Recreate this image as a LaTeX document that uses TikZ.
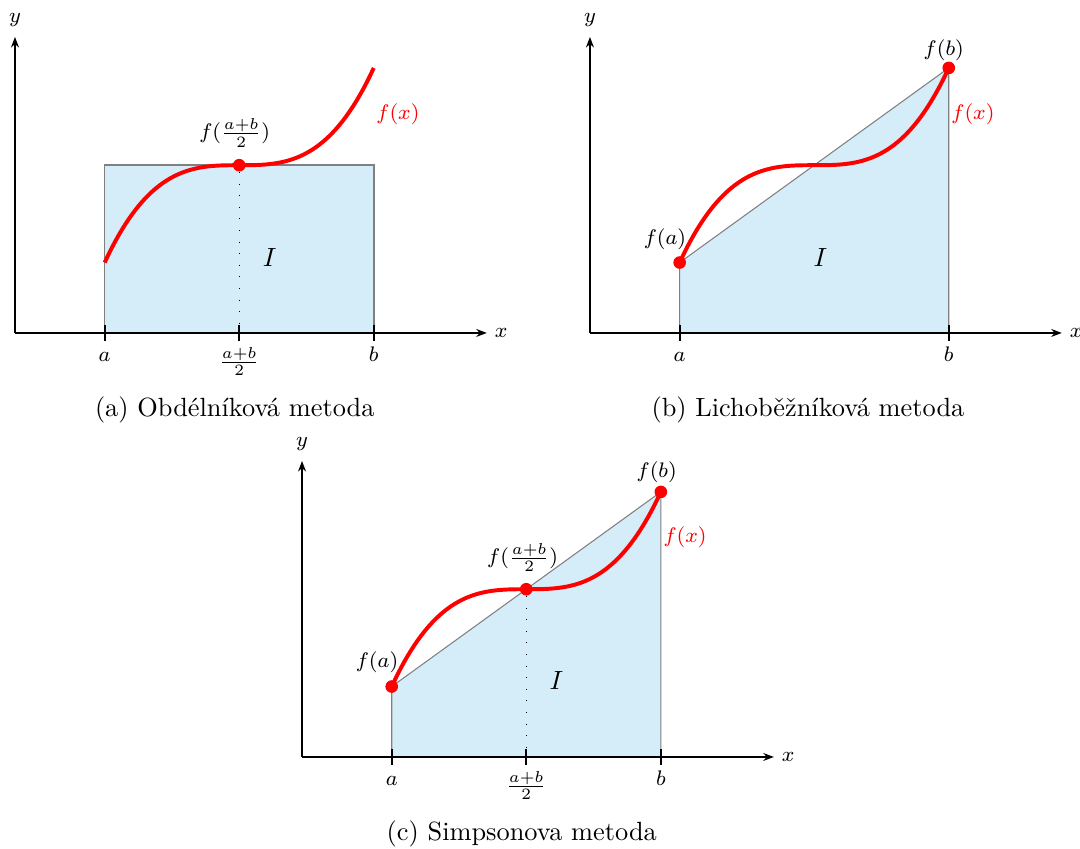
\documentclass[tikz,border=0pt]{standalone}
\usepackage{fontspec}
\usetikzlibrary{arrows.meta}
\definecolor{areablue}{RGB}{213,236,249}

\begin{document}
\begin{tikzpicture}[
    x=1.197cm, y=1.197cm,
    >={Stealth[length=4pt,width=3pt]},
    axis/.style={
        thick,
        ->
    },
    tick/.style={thick},
    curve/.style={
        red,
        line width=1.5pt
    },
    dot/.style={
        circle,
        fill=red,
        inner sep=0pt,
        minimum size=4.8pt
    },
    lbl/.style={font=\footnotesize, inner sep=1pt},
    chord/.style={
        draw=gray,
        thin,
        fill=areablue
    }
]
\useasboundingbox (0,0) rectangle (12.04,9.454);

% =====================
% (a) OBDELNIKOVA
% =====================
\begin{scope}[shift={(0.167,5.742)}]
\coordinate (Oa) at (0,0);
\coordinate (Xa) at (5.26,0);
\coordinate (Ya) at (0,3.30);
\coordinate (Aa) at (1,0);
\coordinate (Ma) at (2.5,0);
\coordinate (Ba) at (4,0);
\coordinate (Ta) at (4,1.87);

\draw[fill=areablue, draw=gray, semithick] (Aa) rectangle (Ta);

% osy
\draw[axis] (Oa) -- (Xa);
\draw[axis] (Oa) -- (Ya);
\node[lbl] (xa) at (5.42,0) {$x$};
\node[lbl] (ya) at (0,3.49) {$y$};

\foreach \t in {Aa,Ma,Ba}
    \draw[tick] ([yshift=3pt]\t) -- ([yshift=-3pt]\t);
\node[lbl, anchor=base] (la) at (1,-0.32) {$a$};
\node[lbl] (lma) at (2.5,-0.318) {$\frac{a+b}{2}$};
\node[lbl, anchor=base] (lb) at (4,-0.32) {$b$};

% funkce
\draw[curve] plot[domain=1:4, samples=60, smooth]
    (\x, {1.87+0.3215*(\x-2.5)*(\x-2.5)*(\x-2.5)});
\node[dot] (Pa) at (2.5,1.87) {};
\draw[loosely dotted] (Pa) -- (Ma);

\node[lbl] (fma) at (2.45,2.23) {$f(\frac{a+b}{2})$};
\node[lbl, red] (fxa) at (4.27,2.44) {$f(x)$};
\node (Ia) at (2.84,0.84) {$I$};
\node (capa) at (2.45,-0.86) {(a) Obdélníková metoda};
\end{scope}

% =====================
% (b) LICHOBEZNIKOVA
% =====================
\begin{scope}[shift={(6.577,5.742)}]
\coordinate (Ob) at (0,0);
\coordinate (Xb) at (5.26,0);
\coordinate (Yb) at (0,3.30);
\coordinate (Ab) at (1,0);
\coordinate (Bb) at (4,0);
\coordinate (FAb) at (1,0.785);
\coordinate (FBb) at (4,2.955);

\draw[chord] (Ab) -- (FAb) -- (FBb) -- (Bb) -- cycle;

% osy
\draw[axis] (Ob) -- (Xb);
\draw[axis] (Ob) -- (Yb);
\node[lbl] (xb) at (5.42,0) {$x$};
\node[lbl] (yb) at (0,3.49) {$y$};

\foreach \t in {Ab,Bb}
    \draw[tick] ([yshift=3pt]\t) -- ([yshift=-3pt]\t);
\node[lbl, anchor=base] (la2) at (1,-0.32) {$a$};
\node[lbl, anchor=base] (lb2) at (4,-0.32) {$b$};

% funkce
\draw[curve] plot[domain=1:4, samples=60, smooth]
    (\x, {1.87+0.3215*(\x-2.5)*(\x-2.5)*(\x-2.5)});
\node[dot] (PAb) at (FAb) {};
\node[dot] (PBb) at (FBb) {};

\node[lbl] (fab) at (0.836,1.04) {$f(a)$};
\node[lbl] (fbb) at (3.944,3.15) {$f(b)$};
\node[lbl, red] (fxb) at (4.27,2.44) {$f(x)$};
\node (Ib) at (2.57,0.84) {$I$};
\node (capb) at (2.43,-0.86) {(b) Lichoběžníková metoda};
\end{scope}

% =====================
% (c) SIMPSONOVA
% =====================
\begin{scope}[shift={(3.367,1.015)}]
\coordinate (Oc) at (0,0);
\coordinate (Xc) at (5.26,0);
\coordinate (Yc) at (0,3.30);
\coordinate (Ac) at (1,0);
\coordinate (Mc) at (2.5,0);
\coordinate (Bc) at (4,0);
\coordinate (FAc) at (1,0.785);
\coordinate (FMc) at (2.5,1.87);
\coordinate (FBc) at (4,2.955);

\draw[chord] (Ac) -- (FAc) -- (FBc) -- (Bc) -- cycle;

% osy
\draw[axis] (Oc) -- (Xc);
\draw[axis] (Oc) -- (Yc);
\node[lbl] (xc) at (5.42,0) {$x$};
\node[lbl] (yc) at (0,3.49) {$y$};

\foreach \t in {Ac,Mc,Bc}
    \draw[tick] ([yshift=3pt]\t) -- ([yshift=-3pt]\t);
\node[lbl, anchor=base] (la3) at (1,-0.32) {$a$};
\node[lbl] (lmc) at (2.5,-0.318) {$\frac{a+b}{2}$};
\node[lbl, anchor=base] (lb3) at (4,-0.32) {$b$};

% funkce
\draw[curve] plot[domain=1:4, samples=60, smooth]
    (\x, {1.87+0.3215*(\x-2.5)*(\x-2.5)*(\x-2.5)});
\node[dot] (PAc) at (FAc) {};
\node[dot] (PMc) at (FMc) {};
\node[dot] (PBc) at (FBc) {};
\draw[loosely dotted] (PMc) -- (Mc);

\node[lbl] (fac) at (0.836,1.06) {$f(a)$};
\node[lbl] (fmc) at (2.46,2.22) {$f(\frac{a+b}{2})$};
\node[lbl] (fbc) at (3.954,3.17) {$f(b)$};
\node[lbl, red] (fxc) at (4.27,2.45) {$f(x)$};
\node (Ic) at (2.835,0.85) {$I$};
\node (capc) at (2.45,-0.86) {(c) Simpsonova metoda};
\end{scope}

\end{tikzpicture}
\end{document}
